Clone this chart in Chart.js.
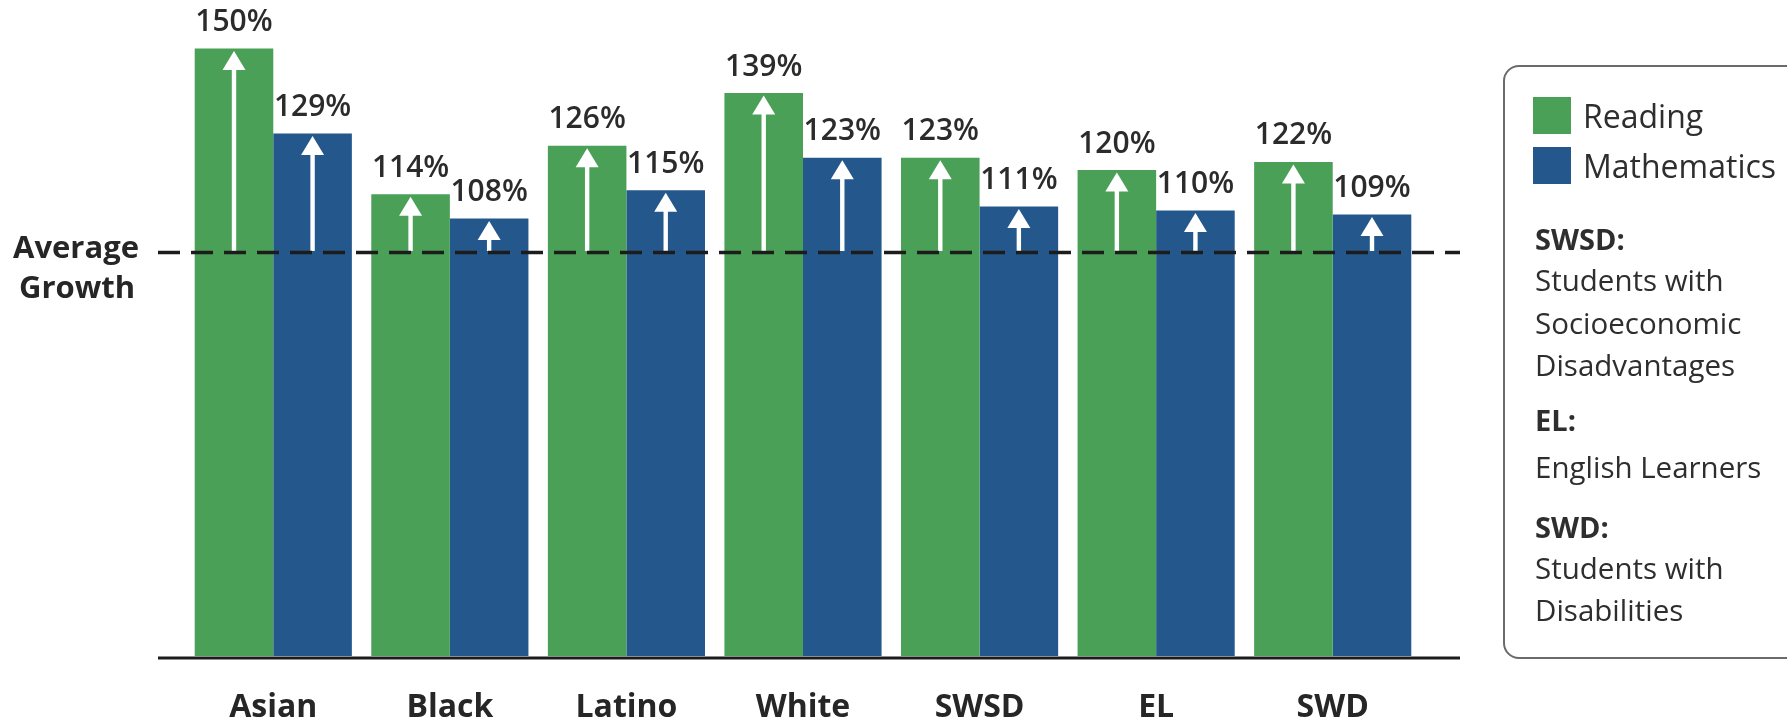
<!DOCTYPE html>
<html>
<head>
<meta charset="utf-8">
<script src="https://cdn.jsdelivr.net/npm/chart.js@4.4.1/dist/chart.umd.min.js"></script>
<style>
  body { margin: 0; background: #fff; font-family: 'Open Sans', sans-serif; overflow: hidden; }
  #wrap { position: relative; width: 1787px; height: 722px; }
  #legend {
    position: absolute; left: 1503px; top: 65px; width: 330px; height: 590px;
    border: 2px solid #6b6b6b; border-radius: 16px; color: #2e2e2e;
  }
  #legend .sw { position: absolute; left: 28px; width: 38px; height: 37px; }
  #legend .row { position: absolute; white-space: nowrap; line-height: 40px; transform: translateY(-50%); }
  #legend .big { left: 78px; font-size: 32px; }
  #legend .txt { left: 30px; font-size: 29.5px; }
  #legend .hd { left: 30px; font-size: 29px; font-weight: 700; }
</style>
</head>
<body>
<div id="wrap">
  <canvas id="chart" width="1787" height="722"></canvas>
  <div id="legend"></div>
</div>
<script>
// data
const groups = ['Asian', 'Black', 'Latino', 'White', 'SWSD', 'EL', 'SWD'];
const reading = [150, 114, 126, 139, 123, 120, 122];
const maths = [129, 108, 115, 123, 111, 110, 109];
const averageLine = 100;
const seriesNames = ['Reading', 'Mathematics'];
const seriesColors = ['#4aa057', '#24578c'];
const notes = [
  ['SWSD:', ['Students with', 'Socioeconomic', 'Disadvantages']],
  ['EL:', ['English Learners']],
  ['SWD:', ['Students with', 'Disabilities']]
];

// arrows, value labels, average line and axis line
const overlay = {
  id: 'overlay',
  afterDatasetsDraw(chart) {
    const { ctx, chartArea, scales: { y } } = chart;
    const avgY = y.getPixelForValue(averageLine);
    const baseY = y.getPixelForValue(0);
    ctx.save();

    chart.data.datasets.forEach((ds, i) => {
      chart.getDatasetMeta(i).data.forEach((bar, j) => {
        const top = bar.y + 2.5;
        ctx.fillStyle = '#ffffff';
        ctx.fillRect(bar.x - 2.2, top + 17, 4.4, avgY - top - 17);
        ctx.beginPath();
        ctx.moveTo(bar.x, top);
        ctx.lineTo(bar.x + 11.5, top + 19);
        ctx.lineTo(bar.x - 11.5, top + 19);
        ctx.closePath();
        ctx.fill();

        ctx.fillStyle = '#2b2b2b';
        ctx.font = '600 30px "Open Sans"';
        ctx.textAlign = 'center';
        ctx.textBaseline = 'alphabetic';
        ctx.fillText(ds.data[j] + '%', bar.x, bar.y - 17.5);
      });
    });

    const x0 = chartArea.left - 27, x1 = chartArea.right + 39;
    ctx.strokeStyle = '#1c1c1c';
    ctx.lineWidth = 3.5;
    ctx.setLineDash([22, 11]);
    ctx.beginPath();
    ctx.moveTo(x0, avgY + 1.5);
    ctx.lineTo(x1, avgY + 1.5);
    ctx.stroke();

    ctx.setLineDash([]);
    ctx.lineWidth = 3;
    ctx.beginPath();
    ctx.moveTo(x0, baseY + 2);
    ctx.lineTo(x1, baseY + 2);
    ctx.stroke();

    ctx.fillStyle = '#262626';
    ctx.font = 'bold 31px "Open Sans"';
    ctx.textAlign = 'center';
    ctx.textBaseline = 'alphabetic';
    ctx.fillText('Average', 76, avgY + 7);
    ctx.fillText('Growth', 77, avgY + 47);
    ctx.restore();
  }
};

new Chart(document.getElementById('chart'), {
  type: 'bar',
  data: {
    labels: groups,
    datasets: [
      { label: seriesNames[0], data: reading, backgroundColor: seriesColors[0] },
      { label: seriesNames[1], data: maths, backgroundColor: seriesColors[1] }
    ]
  },
  options: {
    responsive: false,
    animation: false,
    layout: { padding: { left: 185, right: 366, top: 8, bottom: 1 } },
    datasets: { bar: { barPercentage: 1, categoryPercentage: 0.89 } },
    plugins: { legend: { display: false }, tooltip: { enabled: false } },
    scales: {
      x: {
        grid: { display: false, drawTicks: false },
        border: { display: false },
        afterFit: (scale) => { scale.height = 65; },
        ticks: {
          padding: 36,
          color: '#262626',
          font: { family: 'Open Sans', weight: 'bold', size: 32, lineHeight: 1 }
        }
      },
      y: { display: false, min: 0, max: 160 }
    }
  },
  plugins: [overlay]
});

// legend box
const leg = document.getElementById('legend');
let html = '';
seriesNames.forEach((name, i) => {
  html += `<div class="sw" style="top:${30 + i * 50}px;background:${seriesColors[i]}"></div>`;
  html += `<div class="row big" style="top:${48.5 + i * 50}px">${name}</div>`;
});
const rowTops = [[172, 213, 256, 298], [353, 400], [460, 501, 543]];
notes.forEach(([head, lines], g) => {
  html += `<div class="row hd" style="top:${rowTops[g][0]}px">${head}</div>`;
  lines.forEach((t, k) => {
    html += `<div class="row txt" style="top:${rowTops[g][k + 1]}px">${t}</div>`;
  });
});
leg.innerHTML = html;
</script>
</body>
</html>
